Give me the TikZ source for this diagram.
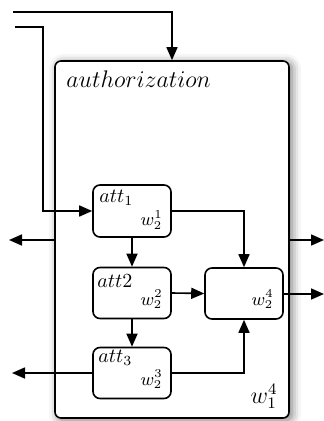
\documentclass[tikz,border=0pt]{standalone}
\usetikzlibrary{arrows.meta,calc,shadows.blur}
\begin{document}
\begin{tikzpicture}[x=0.5pt,y=-0.5pt,
  lw/.style={line width=0.8pt},
  arr/.style={lw,-{Triangle[length=6.5pt,width=5.5pt]}},
  outerbox/.style={draw,lw,fill=white,rounded corners=3pt,minimum width=117pt,minimum height=178.5pt,inner sep=0pt,
    blur shadow={shadow xshift=1.5pt,shadow yshift=-1pt,shadow blur radius=4.5pt,shadow opacity=55}},
  attbox/.style={draw,lw,fill=white,rounded corners=3.5pt,minimum width=39pt,minimum height=25.5pt,inner sep=0pt},
  lbl/.style={inner sep=0pt}
]
\useasboundingbox (0,0) rectangle (324,421);
\node[outerbox] (outer) at (172,239.5) {};
\node[lbl,anchor=base west,font=\large] (authlbl) at (66,88) {$authorization$};
\node[lbl,anchor=base east,font=\large] (w14) at (278,403) {$w_1^4$};

\node[attbox,minimum height=26pt] (att1) at (132,211) {};
\node[attbox] (att2) at (132,293) {};
\node[attbox] (att3) at (132,373) {};
\node[attbox] (rb) at (244,293.5) {};

\node[lbl,anchor=base west] (l1) at (99,203) {$att_1$};
\node[lbl,anchor=base west] (l2) at (97,287) {$att2$};
\node[lbl,anchor=base west] (l3) at (98,362) {$att_3$};
\node[lbl,anchor=base east,font=\small] (w1) at (163,226) {$w_2^1$};
\node[lbl,anchor=base east,font=\small] (w2) at (163,305) {$w_2^2$};
\node[lbl,anchor=base east,font=\small] (w3) at (163,385) {$w_2^3$};
\node[lbl,anchor=base east,font=\small] (w4) at (274,305) {$w_2^4$};

\coordinate (in1) at (13,12);
\coordinate (in2) at (15,27);
\coordinate (c2) at (43,211);
\coordinate (o1) at (9,240);
\coordinate (o2) at (324,240);
\coordinate (o3) at (324,294);
\coordinate (o4) at (12,373);

\draw[arr] (in1) -| (outer.north);
\draw[arr] (in2) -| (c2) -- (att1.west);
\draw[arr] (outer.west |- o1) -- (o1);
\draw[arr] (outer.east |- o2) -- (o2);
\draw[arr] (att1.east) -| (rb.north);
\draw[arr] (att1.south) -- (att2.north);
\draw[arr] (att2.east) -- (rb.west);
\draw[arr] (rb.east |- o3) -- (o3);
\draw[arr] (att2.south) -- (att3.north);
\draw[arr] (att3.west) -- (o4);
\draw[arr] (att3.east) -| (rb.south);
\end{tikzpicture}
\end{document}
